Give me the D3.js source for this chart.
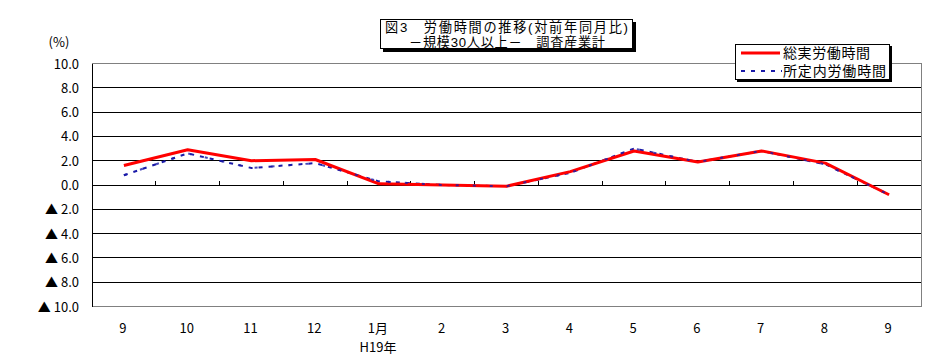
<!DOCTYPE html>
<html><head><meta charset="utf-8">
<script src="https://cdn.jsdelivr.net/npm/d3@7/dist/d3.min.js"></script>
<style>body{margin:0;background:#fff}svg{display:block}text{font-family:"Noto Sans CJK JP","Noto Sans",sans-serif}
text.tight{font-family:"Liberation Sans","Noto Sans CJK JP",sans-serif}</style>
</head><body>
<svg id="c" width="929" height="363"></svg>
<script>
const categories = ["9","10","11","12","1月","2","3","4","5","6","7","8","9"];
const totalHours = [1.6, 2.9, 2.0, 2.1, 0.1, 0.0, -0.1, 1.1, 2.8, 1.9, 2.8, 1.8, -0.8];
const scheduledHours = [0.8, 2.6, 1.4, 1.8, 0.3, 0.0, -0.1, 1.0, 3.0, 1.9, 2.8, 1.7, -0.8];
const yTicks = [10, 8, 6, 4, 2, 0, -2, -4, -6, -8, -10];
const seriesNames = ["総実労働時間", "所定内労働時間"];
const titleLines = ["図3　労働時間の推移(対前年同月比)", "－規模30人以上－　調査産業計"];

const svg = d3.select("#c");
const L = 92, R = 921, T = 63.5, B = 306.5;
const x = d3.scaleBand().domain(d3.range(categories.length)).range([L, R]);
const y = d3.scaleLinear().domain([-10, 10]).range([B, T]);

// gridlines
svg.append("g").selectAll("line").data(yTicks.filter(v => v !== 10 && v !== -10)).join("line")
  .attr("x1", L).attr("x2", R).attr("y1", d => y(d)).attr("y2", d => y(d))
  .attr("stroke", "#000").attr("stroke-width", 1).attr("shape-rendering", "crispEdges");
// plot border
svg.append("rect").attr("x", L).attr("y", T).attr("width", R - L).attr("height", B - T)
  .attr("fill", "none").attr("stroke", "#808080").attr("shape-rendering", "crispEdges");
// left axis
svg.append("line").attr("x1", L).attr("x2", L).attr("y1", T).attr("y2", B)
  .attr("stroke", "#000").attr("shape-rendering", "crispEdges");

// y labels
const yl = svg.append("g");
yTicks.forEach(v => {
  const g = yl.append("text").attr("x", 79).attr("y", y(v) + 5).attr("text-anchor", "end")
    .attr("font-size", 13).attr("fill", "#000");
  if (v < 0) g.text("▲ " + Math.abs(v).toFixed(1));
  else g.text(v.toFixed(1));
});
svg.append("text").attr("x", 59).attr("y", 47).attr("text-anchor", "middle")
  .attr("font-size", 13).text("(%)");

// x axis ticks at zero line (inside, upward)
svg.append("g").selectAll("line").data(d3.range(1, categories.length)).join("line")
  .attr("x1", d => x(d)).attr("x2", d => x(d)).attr("y1", y(0) - 4).attr("y2", y(0))
  .attr("stroke", "#000").attr("shape-rendering", "crispEdges");

// x labels
svg.append("g").selectAll("text").data(categories).join("text")
  .attr("x", (d, i) => x(i) + x.bandwidth() / 2 - 1).attr("y", 333)
  .attr("text-anchor", "middle").attr("font-size", 13).text(d => d);
svg.append("text").attr("x", x(4) + x.bandwidth() / 2 - 1).attr("y", 352)
  .attr("text-anchor", "middle").attr("font-size", 13).text("H19年");

// lines
const line = d3.line().x((d, i) => x(i) + x.bandwidth() / 2).y(d => y(d));
svg.append("path").datum(scheduledHours).attr("d", line).attr("fill", "none")
  .attr("stroke", "#1a1aa8").attr("stroke-width", 2).attr("stroke-dasharray", "4,6");
svg.append("path").datum(totalHours).attr("d", line).attr("fill", "none")
  .attr("stroke", "#ff0000").attr("stroke-width", 3).attr("stroke-linejoin", "round");
svg.append("path").datum(scheduledHours).attr("d", line).attr("fill", "none")
  .attr("stroke", "#1a1aa8").attr("stroke-width", 2).attr("stroke-dasharray", "3,14").attr("opacity", 0.8);

// title box
svg.append("rect").attr("x", 383).attr("y", 22).attr("width", 253).attr("height", 30).attr("fill", "#000");
svg.append("rect").attr("x", 380.5).attr("y", 19.5).attr("width", 252).attr("height", 29)
  .attr("fill", "#fff").attr("stroke", "#000");
const tl = [[385, 243], [409, 196]];
titleLines.forEach((t, i) => svg.append("text").attr("class", "tight").attr("font-size", 13.2)
  .attr("x", tl[i][0]).attr("y", 32 + i * 15.2)
  .attr("textLength", tl[i][1]).attr("lengthAdjust", "spacing").text(t));

// legend
svg.append("rect").attr("x", 737).attr("y", 46).attr("width", 155).attr("height", 36).attr("fill", "#000");
svg.append("rect").attr("x", 735.5).attr("y", 44.5).attr("width", 154).attr("height", 35)
  .attr("fill", "#fff").attr("stroke", "#000");
svg.append("line").attr("x1", 741).attr("x2", 780).attr("y1", 53).attr("y2", 53)
  .attr("stroke", "#ff0000").attr("stroke-width", 3);
svg.append("line").attr("x1", 741).attr("x2", 782).attr("y1", 71).attr("y2", 71)
  .attr("stroke", "#1a1aa8").attr("stroke-width", 2).attr("stroke-dasharray", "4,6");
const lw = [87, 103];
seriesNames.forEach((n, i) => svg.append("text").attr("class", "tight").attr("font-size", 14)
  .attr("x", 783).attr("y", 58 + i * 18)
  .attr("textLength", lw[i]).attr("lengthAdjust", "spacing").text(n));
</script>
</body></html>
